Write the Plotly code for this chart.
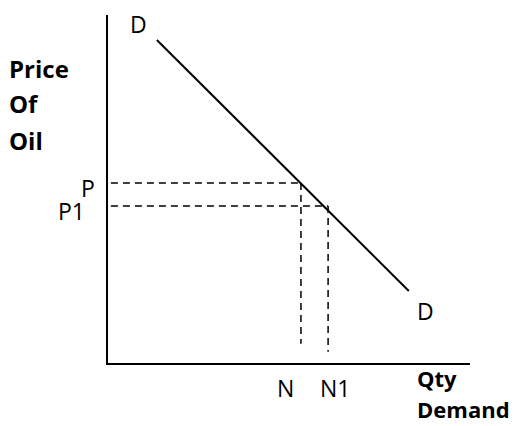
import plotly.graph_objects as go

# Demand curve endpoints (quantity, price) in chart units (axes run 0..10)
demand_q = [1.35, 8.31]
demand_p = [9.28, 2.07]

# Equilibrium points
price_levels = [5.17, 4.51]      # P, P1
qty_levels = [5.33, 6.08]        # N, N1
price_labels = ["P", "P1"]
qty_labels = ["N", "N1"]
guide_start_q = 0.08
guide_end_p = [0.55, 0.32]

axis_title_y = ["Price", "Of", "Oil"]
axis_title_x = ["Qty", "Demand"]

FONT = "Open Sans"
AX_MAX = 10.0

fig = go.Figure()

# Demand line
fig.add_trace(go.Scatter(x=demand_q, y=demand_p, mode="lines",
                         line=dict(color="black", width=2), hoverinfo="skip"))

# Dashed guide lines
for p, q, pe in zip(price_levels, qty_levels, guide_end_p):
    fig.add_trace(go.Scatter(x=[guide_start_q, q], y=[p, p], mode="lines",
                             line=dict(color="black", width=1.5, dash="7px,5px"),
                             hoverinfo="skip"))
    fig.add_trace(go.Scatter(x=[q, q], y=[p, pe], mode="lines",
                             line=dict(color="black", width=1.5, dash="7px,5px"),
                             hoverinfo="skip"))

anns = []
reg = dict(family=FONT, size=23, color="black")
bold = dict(family=FONT, size=24, color="black")
bold_x = dict(family=FONT, size=22, color="black")


def lab(q, p, text, font, xanchor="center", yanchor="middle"):
    anns.append(dict(x=q / AX_MAX, y=p / AX_MAX, text=text, font=font,
                     xanchor=xanchor, yanchor=yanchor, showarrow=False,
                     xref="paper", yref="paper"))


# D labels
lab(0.83, 9.74, "D", reg)
lab(8.76, 1.49, "D", reg)
# price labels
lab(-0.55, 5.03, price_labels[0], reg)
lab(-1.02, 4.37, price_labels[1], reg)
# qty labels
lab(4.89, -0.72, qty_labels[0], reg)
lab(6.27, -0.72, qty_labels[1], reg)
# axis titles
for txt, yy in zip(axis_title_y, [8.45, 7.45, 6.38]):
    lab(-2.79, yy, "<b>%s</b>" % txt, bold, xanchor="left")
lab(8.48, -0.42, "<b>%s</b>" % axis_title_x[0], bold_x, xanchor="left")
lab(8.48, -1.80, "<b>%s</b>" % axis_title_x[1], bold_x, xanchor="left", yanchor="bottom")

fig.update_layout(
    width=512, height=418,
    margin=dict(l=100, r=50, t=7, b=63),
    paper_bgcolor="white", plot_bgcolor="white",
    showlegend=False,
    annotations=anns,
    xaxis=dict(range=[0, AX_MAX], showgrid=False, zeroline=False, showticklabels=False,
               ticks="", showline=True, linecolor="black", linewidth=2),
    yaxis=dict(range=[0, AX_MAX], showgrid=False, zeroline=False, showticklabels=False,
               ticks="", showline=True, linecolor="black", linewidth=2),
)

fig.write_html("out.html")
